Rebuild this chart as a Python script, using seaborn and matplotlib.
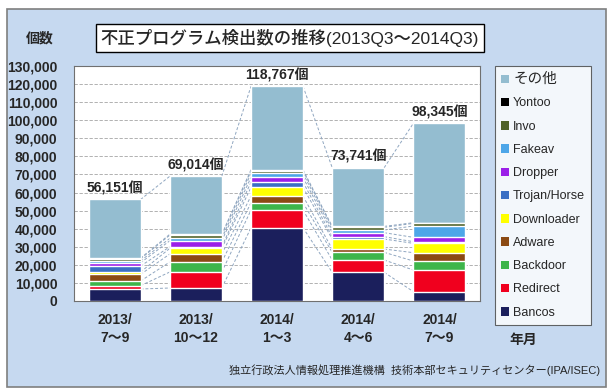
import numpy as np
import pandas as pd
import matplotlib
matplotlib.use("Agg")
import matplotlib.pyplot as plt
from matplotlib.patches import Patch, Rectangle
import seaborn as sns

# periods (x axis)
periods = ["2013/\n7～9", "2013/\n10～12", "2014/\n1～3", "2014/\n4～6", "2014/\n7～9"]
totals = [56151, 69014, 118767, 73741, 98345]

# stacked series, bottom -> top
bancos = [6640, 7190, 40550, 15850, 5160]
redirect = [1840, 8850, 9770, 6820, 11980]
backdoor = [2580, 5530, 4050, 4240, 4980]
adware = [3690, 4420, 3690, 1840, 4610]
downloader = [1290, 3130, 4790, 5530, 5160]
trojan = [3300, 900, 2950, 1290, 920]
dropper = [1800, 3300, 2580, 2210, 2400]
fakeav = [1100, 1300, 2210, 1470, 6270]
invo = [1100, 1800, 1470, 1470, 1470]
yontoo = [400, 500, 550, 550, 370]

names = ["Bancos", "Redirect", "Backdoor", "Adware", "Downloader", "Trojan/Horse",
         "Dropper", "Fakeav", "Invo", "Yontoo", "その他"]
colors = ["#1b1f5c", "#f0001e", "#3db54a", "#8b4a13", "#ffff00", "#3a6fc4",
          "#9b1fe8", "#4da6e8", "#4f6228", "#000000", "#94bdd0"]

known = [bancos, redirect, backdoor, adware, downloader, trojan, dropper, fakeav, invo, yontoo]
other = [t - sum(v[i] for v in known) for i, t in enumerate(totals)]
series = known + [other]

cum = np.cumsum(np.array(series), axis=0)

sns.set_style("white")
plt.rcParams['font.family'] = ['Liberation Sans', 'Noto Sans CJK JP', 'DejaVu Sans']

fig = plt.figure(figsize=(6.14, 3.91), dpi=100)
fig.patch.set_facecolor("white")
fig.patches.append(Rectangle((7 / 614, 1 - 387 / 391), 599 / 614, 378 / 391,
                             transform=fig.transFigure, facecolor="#c6d9f0",
                             edgecolor="#7f7f7f", lw=1.2, zorder=-5))

ax = fig.add_axes([74 / 614, 1 - 301 / 391, 406 / 614, 235 / 391])
ax.set_facecolor("white")

W = 0.64
# draw from the top cumulative down so lower segments overlay
for k in range(len(names) - 1, -1, -1):
    df = pd.DataFrame({"period": periods, "value": cum[k]})
    sns.barplot(data=df, x="period", y="value", color=colors[k], width=W,
                saturation=1, ax=ax, zorder=3)

# series lines between bars
for k in range(len(names)):
    for i in range(len(periods) - 1):
        ax.plot([i + W / 2, i + 1 - W / 2], [cum[k][i], cum[k][i + 1]],
                ls=(0, (3, 2)), color="#8fa6c0", lw=0.7, zorder=2)

for i, t in enumerate(totals):
    ax.annotate(f"{t:,}個", (i, t), xytext=(0, 3), textcoords="offset points",
                ha="center", va="bottom", fontsize=10, fontweight="bold", zorder=5)

ax.set_xlim(-0.5, 4.5)
ax.set_ylim(0, 130000)
ax.set_yticks(range(0, 130001, 10000))
ax.set_yticklabels([f"{v:,}" for v in range(0, 130001, 10000)], fontsize=10, fontweight="bold")
ax.set_xticks(range(len(periods)))
ax.set_xticklabels(periods, fontsize=10, fontweight="bold", linespacing=1.35)
ax.set_xticks([0.5, 1.5, 2.5, 3.5], minor=True)
ax.tick_params(axis="x", which="major", length=0, pad=9)
ax.tick_params(axis="x", which="minor", direction="in", length=3, color="#808080")
ax.tick_params(axis="y", length=0, pad=12)
ax.set_xlabel("")
ax.set_ylabel("")
ax.grid(axis="y", ls=(0, (4, 2)), color="#a5a5a5", lw=0.6, zorder=1)
ax.set_axisbelow(True)
for s in ax.spines.values():
    s.set_color("#707070")
    s.set_linewidth(0.8)

# legend
handles = [Patch(facecolor=c, edgecolor="none") for c in colors]
labels = list(names)
leg = fig.legend(handles[::-1], labels[::-1], loc="upper left",
                 bbox_to_anchor=(495 / 614, 1 - 66 / 391), borderaxespad=0,
                 fontsize=9, handlelength=0.65, handleheight=0.65, handletextpad=0.3,
                 labelspacing=0.9, borderpad=0.5, frameon=True, fancybox=False)
leg.get_frame().set_edgecolor("#404040")
leg.get_frame().set_linewidth(0.8)
leg.get_texts()[0].set_fontsize(10.5)

fig.text(290 / 614, 1 - 38 / 391, "不正プログラム検出数の推移(2013Q3～2014Q3)",
         ha="center", va="center", fontsize=12.5, fontweight="medium",
         bbox=dict(boxstyle="square,pad=0.3", facecolor="white", edgecolor="black", lw=1))
fig.text(40 / 614, 1 - 38 / 391, "個数", ha="center", va="center",
         fontsize=10, fontweight="bold")
fig.text(523 / 614, 1 - 340 / 391, "年月", ha="center", va="center",
         fontsize=10, fontweight="bold")
fig.text(600 / 614, 1 - 370 / 391,
         "独立行政法人情報処理推進機構  技術本部セキュリティセンター(IPA/ISEC)",
         ha="right", va="center", fontsize=8)

fig.savefig("out.png", dpi=100)
